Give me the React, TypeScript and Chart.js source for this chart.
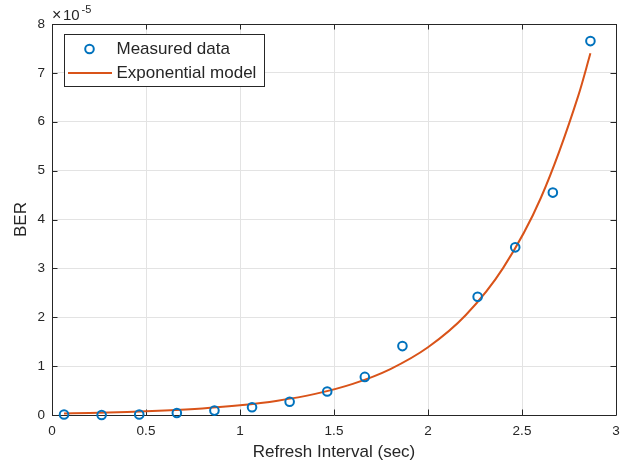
import React, { useEffect, useRef } from "react";
import { Chart, registerables } from "chart.js";

Chart.register(...registerables);

// ---- Data (BER values in units of 1e-5) ----
const measuredX = [0.064, 0.264, 0.464, 0.664, 0.864, 1.064, 1.264, 1.464, 1.664, 1.864, 2.264, 2.464, 2.664, 2.864];
const measuredBER = [0.01, 0.0, 0.01, 0.04, 0.09, 0.16, 0.27, 0.48, 0.78, 1.41, 2.42, 3.43, 4.55, 7.65];

const modelX = [0.064, 0.2, 0.4, 0.6, 0.8, 1.0, 1.2, 1.4, 1.6, 1.8, 2.0, 2.2, 2.4, 2.6, 2.8, 2.864];
const modelBER = [0.032, 0.042, 0.062, 0.092, 0.135, 0.199, 0.293, 0.432, 0.637, 0.94, 1.385, 2.04, 3.01, 4.44, 6.54, 7.4];

const xTickValues = [0, 0.5, 1, 1.5, 2, 2.5, 3];
const xTickLabels = ["0", "0.5", "1", "1.5", "2", "2.5", "3"];
const yTickValues = [0, 1, 2, 3, 4, 5, 6, 7, 8];
const yTickLabels = ["0", "1", "2", "3", "4", "5", "6", "7", "8"];
const exponentBase = "10";
const exponentPower = "-5";
const xTitle = "Refresh Interval (sec)";
const yTitle = "BER";
const legendLabels = ["Measured data", "Exponential model"];

const BLUE = "#0072BD";
const ORANGE = "#D95319";
const TEXT = "#262626";
const GRID = "#e3e3e3";
const FONT = '"Liberation Sans", Arial, Helvetica, sans-serif';

const framePlugin = {
  id: "matlabFrame",
  beforeDatasetsDraw(chart: any) {
    const { ctx, chartArea } = chart;
    const { left, right, top, bottom } = chartArea;
    const xs = chart.scales.x;
    const ys = chart.scales.y;
    ctx.save();
    ctx.strokeStyle = TEXT;
    ctx.lineWidth = 1;
    ctx.beginPath();
    ctx.rect(Math.round(left) + 0.5, Math.round(top) + 0.5, Math.round(right - left), Math.round(bottom - top));
    ctx.stroke();
    const tl = 5.5;
    ctx.beginPath();
    xTickValues.forEach((v) => {
      const px = Math.round(xs.getPixelForValue(v)) + 0.5;
      ctx.moveTo(px, bottom);
      ctx.lineTo(px, bottom - tl);
      ctx.moveTo(px, top);
      ctx.lineTo(px, top + tl);
    });
    yTickValues.forEach((v) => {
      const py = Math.round(ys.getPixelForValue(v)) + 0.5;
      ctx.moveTo(left, py);
      ctx.lineTo(left + tl, py);
      ctx.moveTo(right, py);
      ctx.lineTo(right - tl, py);
    });
    ctx.stroke();
    ctx.restore();
  },
  afterDatasetsDraw(chart: any) {
    const { ctx, chartArea } = chart;
    const { left, top } = chartArea;
    ctx.save();
    // exponent label
    ctx.fillStyle = TEXT;
    ctx.textBaseline = "middle";
    ctx.textAlign = "left";
    ctx.font = `16px ${FONT}`;
    ctx.fillText("\u00d7", left, top - 8.5);
    ctx.font = `15px ${FONT}`;
    ctx.fillText(exponentBase, left + 11, top - 8);
    ctx.font = `11px ${FONT}`;
    ctx.fillText(exponentPower, left + 29.5, top - 14);

    // legend
    const bx = left + 12.5;
    const by = top + 10.5;
    const bw = 200;
    const bh = 52;
    ctx.fillStyle = "#ffffff";
    ctx.fillRect(bx, by, bw, bh);
    ctx.strokeStyle = TEXT;
    ctx.lineWidth = 1;
    ctx.strokeRect(bx, by, bw, bh);

    const row1 = by + 14.5;
    const row2 = by + 38.5;
    ctx.strokeStyle = BLUE;
    ctx.lineWidth = 2;
    ctx.beginPath();
    ctx.arc(bx + 25, row1, 4.3, 0, Math.PI * 2);
    ctx.stroke();

    ctx.strokeStyle = ORANGE;
    ctx.lineWidth = 2;
    ctx.beginPath();
    ctx.moveTo(bx + 3.5, row2);
    ctx.lineTo(bx + 47.5, row2);
    ctx.stroke();

    ctx.fillStyle = TEXT;
    ctx.font = `17px ${FONT}`;
    ctx.textBaseline = "middle";
    ctx.fillText(legendLabels[0], bx + 52, row1);
    ctx.fillText(legendLabels[1], bx + 52, row2);
    ctx.restore();
  },
};

export default function App() {
  const canvasRef = useRef<HTMLCanvasElement | null>(null);

  useEffect(() => {
    const canvas = canvasRef.current;
    if (!canvas) return;
    const measured = measuredX.map((x, i) => ({ x, y: measuredBER[i] }));
    const model = modelX.map((x, i) => ({ x, y: modelBER[i] }));

    const chart = new Chart(canvas, {
      type: "scatter",
      data: {
        datasets: [
          {
            label: legendLabels[1],
            data: model,
            showLine: true,
            borderColor: ORANGE,
            backgroundColor: ORANGE,
            borderWidth: 2,
            pointRadius: 0,
            cubicInterpolationMode: "monotone",
            order: 2,
          } as any,
          {
            label: legendLabels[0],
            data: measured,
            showLine: false,
            borderColor: BLUE,
            backgroundColor: "rgba(0,0,0,0)",
            borderWidth: 2,
            pointRadius: 4.3,
            pointStyle: "circle",
            clip: false,
            order: 1,
          } as any,
        ],
      },
      options: {
        responsive: false,
        animation: false,
        devicePixelRatio: 1,
        layout: { padding: { top: 24, right: 16, left: 0, bottom: 0 } },
        plugins: {
          legend: { display: false },
          tooltip: { enabled: false },
        },
        scales: {
          x: {
            type: "linear",
            min: 0,
            max: 3,
            afterFit: (s: any) => {
              s.height = 53;
            },
            afterBuildTicks: (s: any) => {
              s.ticks = xTickValues.map((v) => ({ value: v }));
            },
            ticks: {
              color: TEXT,
              font: { family: FONT, size: 13.5 },
              padding: 8,
              maxRotation: 0,
              autoSkip: false,
              callback: (_v: any, i: number) => xTickLabels[i],
            },
            grid: { color: GRID, drawTicks: false, lineWidth: 1 },
            border: { display: false },
            title: {
              display: true,
              text: xTitle,
              color: TEXT,
              font: { family: FONT, size: 17 },
              padding: { top: 0, bottom: 5 },
            },
          },
          y: {
            type: "linear",
            min: 0,
            max: 8,
            afterFit: (s: any) => {
              s.width = 52;
            },
            afterBuildTicks: (s: any) => {
              s.ticks = yTickValues.map((v) => ({ value: v }));
            },
            ticks: {
              color: TEXT,
              font: { family: FONT, size: 13.5 },
              padding: 7,
              callback: (_v: any, i: number) => yTickLabels[i],
            },
            grid: { color: GRID, drawTicks: false, lineWidth: 1 },
            border: { display: false },
            title: {
              display: true,
              text: yTitle,
              color: TEXT,
              font: { family: FONT, size: 17 },
              padding: { top: 11, bottom: 0 },
            },
          },
        },
      } as any,
      plugins: [framePlugin],
    });

    return () => {
      chart.destroy();
    };
  }, []);

  return (
    <div style={{ position: "fixed", left: 0, top: 0, width: 632, height: 468, background: "#ffffff" }}>
      <canvas ref={canvasRef} width={632} height={468} style={{ display: "block" }} />
    </div>
  );
}
